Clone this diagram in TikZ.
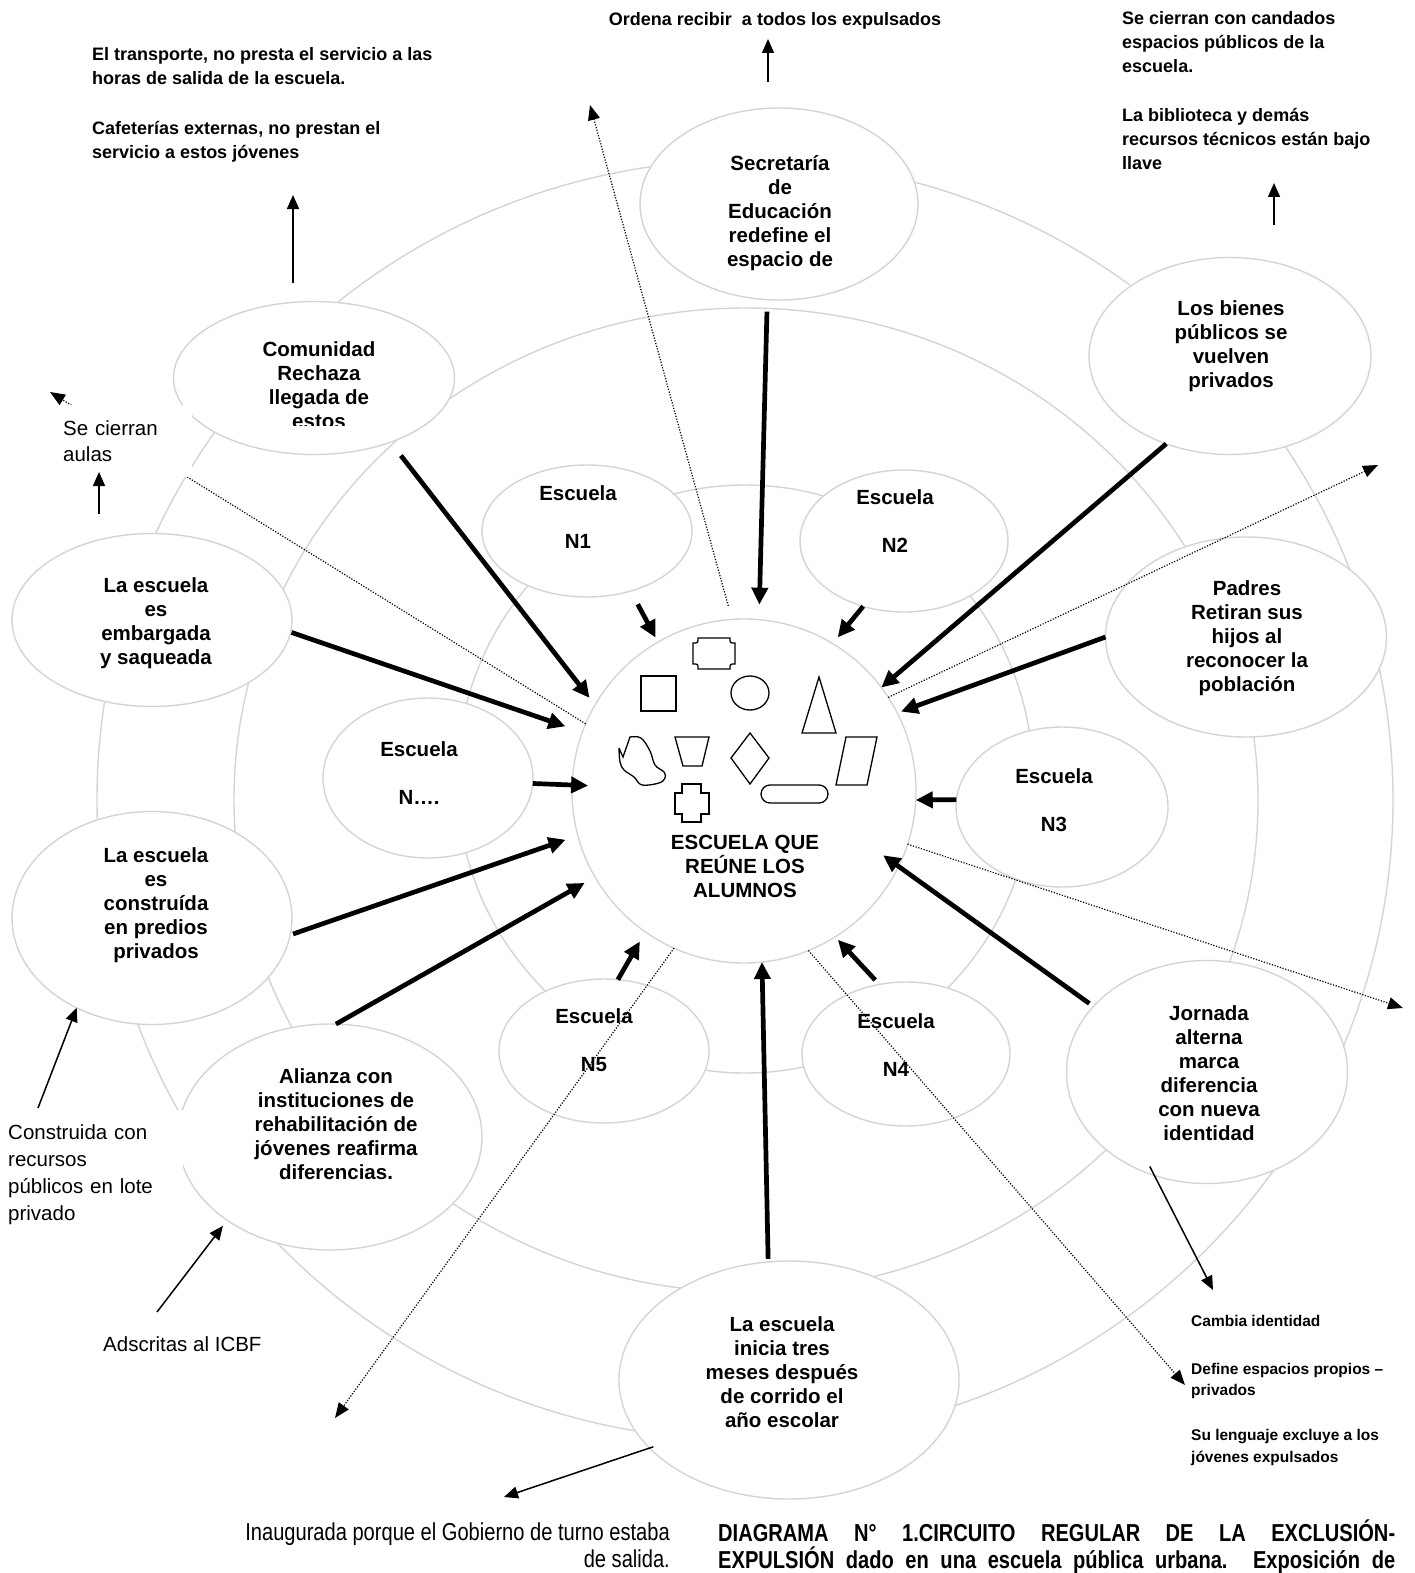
\documentclass[tikz,border=0pt]{standalone}
\usepackage{fontspec}
\setmainfont{Liberation Sans}
\newfontfamily\estrecha[FakeStretch=0.82]{Liberation Sans}
\usepackage{xcolor}
\usepackage{tikz}
\usetikzlibrary{shapes.geometric, arrows.meta, calc}
\definecolor{gris}{RGB}{212,212,212}

\begin{document}
\begin{tikzpicture}[x=1pt, y=-1pt,
		anillo/.style={draw=gris, line width=1.4pt},
		ovalo/.style={ellipse, draw=gris, fill=white, line width=1.4pt, inner sep=0pt, outer sep=0pt},
		ovtexto/.style={align=center, font=\fontsize{20.5}{24}\selectfont\bfseries},
		negtexto/.style={align=left, inner sep=0pt, font=\fontsize{18}{24}\selectfont\bfseries},
		regtexto/.style={align=left, font=\fontsize{20.5}{26}\selectfont},
		gruesa/.style={line width=4.7pt, -{Triangle[length=17pt, width=16pt]}},
		fina/.style={line width=1.5pt, -{Triangle[length=14pt, width=12pt]}},
		punteada/.style={line width=1.2pt, dash pattern=on 1.2pt off 1.6pt, -{Triangle[length=15pt, width=12pt]}}]
	
	\useasboundingbox (0,0) rectangle (1414,1573);
	\fill [white] (0,0) rectangle (1414,1573);
	
	\begin{scope}
		\draw [anillo] (745,800) ellipse [x radius=648pt, y radius=640pt];
		\draw [anillo] (746,800) ellipse [x radius=512pt, y radius=492pt];
		\draw [anillo] (745,779) ellipse [x radius=288pt, y radius=294pt];
	\end{scope}
	
	\node [ovalo, circle, minimum size=344pt] (cent) at (744,791) {};
	
	\node [ovalo, minimum width=278pt, minimum height=192pt] (secr) at (779,204) {};
	\node [ovalo, minimum width=281pt, minimum height=153pt] (comu) at (314,378) {};
	\node [ovalo, minimum width=282pt, minimum height=197pt] (bien) at (1230,356) {};
	\node [ovalo, minimum width=280pt, minimum height=173pt] (emba) at (152,620) {};
	\node [ovalo, minimum width=281pt, minimum height=200pt] (padr) at (1246,637) {};
	\node [ovalo, minimum width=280pt, minimum height=213pt] (cons) at (152,918) {};
	\node [ovalo, minimum width=304pt, minimum height=226pt] (alia) at (330,1137) {};
	\node [ovalo, minimum width=281pt, minimum height=223pt] (jorn) at (1207,1072) {};
	\node [ovalo, minimum width=340pt, minimum height=238pt] (inic) at (789,1380) {};
	
	\node [ovalo, minimum width=210pt, minimum height=132pt] (n1) at (587,531) {};
	\node [ovalo, minimum width=208pt, minimum height=142pt] (n2) at (904,541) {};
	\node [ovalo, minimum width=210pt, minimum height=160pt] (ndots) at (428,778) {};
	\node [ovalo, minimum width=212pt, minimum height=160pt] (n3) at (1062,807) {};
	\node [ovalo, minimum width=210pt, minimum height=144pt] (n5) at (604,1051) {};
	\node [ovalo, minimum width=208pt, minimum height=144pt] (n4) at (906,1054) {};
	
	\node [ovtexto] (secr-t) at (780,213) {Secretaría\\de\\Educación\\redefine el\\espacio de};
	\begin{scope}
		\clip (150,300) rectangle (480,425);
		\node [ovtexto] (comu-t) at (319,385) {Comunidad\\Rechaza\\llegada de\\estos};
	\end{scope}
	\node [ovtexto] (bien-t) at (1231,346) {Los bienes\\públicos se\\vuelven\\privados};
	\node [ovtexto] (emba-t) at (156,623) {La escuela\\es\\embargada\\y saqueada};
	\node [ovtexto] (padr-t) at (1247,638) {Padres\\Retiran sus\\hijos al\\reconocer la\\población};
	\node [ovtexto] (cons-t) at (156,905) {La escuela\\es\\construída\\en predios\\privados};
	\node [ovtexto] (alia-t) at (336,1124) {Alianza con\\instituciones de\\rehabilitación de\\jóvenes reafirma\\diferencias.};
	\node [ovtexto] (jorn-t) at (1209,1073) {Jornada\\alterna\\marca\\diferencia\\con nueva\\identidad};
	\node [ovtexto] (inic-t) at (782,1372) {La escuela\\inicia tres\\meses después\\de corrido el\\año escolar};
	
	\node [ovtexto] (n1-t) at (578,517) {Escuela\\[24pt]N1};
	\node [ovtexto] (n2-t) at (895,521) {Escuela\\[24pt]N2};
	\node [ovtexto] (ndots-t) at (419,773) {Escuela\\[24pt]N….};
	\node [ovtexto] (n3-t) at (1054,800) {Escuela\\[24pt]N3};
	\node [ovtexto] (n5-t) at (594,1040) {Escuela\\[24pt]N5};
	\node [ovtexto] (n4-t) at (896,1045) {Escuela\\[24pt]N4};
	
	\node [ovtexto] (cent-t) at (745,866) {ESCUELA QUE\\REÚNE LOS\\ALUMNOS};
	
	\begin{scope}[line width=1.3pt]
		\draw (698,638) -- (730,638) .. controls (730,643) .. (735,643) -- (735,664) .. controls (730,664) .. (730,669) -- (698,669) .. controls (698,664) .. (693,664) -- (693,643) .. controls (698,643) .. (698,638) -- cycle;
		\draw (641,676) rectangle (676,711);
		\draw (750,693) ellipse [x radius=19pt, y radius=17pt];
		\draw (819,677) -- (836,733) -- (802,733) -- cycle;
		\draw (619,748) -- (623,757) -- plot [smooth, tension=0.6] coordinates {(630,737) (641,738) (650,751) (655,765) (664,772) (665,778) (659,783) (642,785) (634,777) (624,770) (620,762) (619,748)};
		\draw (675,737) -- (709,737) -- (702,766) -- (683,766) -- cycle;
		\draw (750,733) -- (769,758) -- (750,784) -- (731,758) -- cycle;
		\draw (846,737) -- (877,737) -- (867,785) -- (836,785) -- cycle;
		\draw (682,784) -- (701,784) -- (701,793) -- (709,793) -- (709,814) -- (701,814) -- (701,822) -- (682,822) -- (682,814) -- (675,814) -- (675,793) -- (682,793) -- cycle;
		\draw [rounded corners=9pt] (761,785) rectangle (828,803);
	\end{scope}
	
	\draw [gruesa, shorten <=12pt, shorten >=15pt] (secr.-97) -- (cent.85);
	\draw [gruesa, shorten <=17pt, shorten >=9pt] (comu.-40) -- (cent.150);
	\draw [gruesa, shorten <=1pt, shorten >=18pt] (emba.-5) -- (cent.160);
	\draw [gruesa, shorten >=-16pt] (ndots.-3) -- (cent.178);
	\draw [gruesa, shorten <=3pt, shorten >=13pt] (cons.-7) -- (cent.195);
	\draw [gruesa, shorten >=12pt] (alia.87) -- (cent.210);
	\draw [gruesa, shorten >=11pt] (n5.79) -- (cent.235);
	\draw [gruesa, shorten <=3pt] (inic.100) -- (cent.-84);
	\draw [gruesa, shorten <=6pt, shorten >=4pt] (n4.111) -- (cent.-58);
	\draw [gruesa, shorten <=5pt, shorten >=-19pt] (jorn.150) -- (cent.-26);
	\draw [gruesa] (n3.176) -- (cent.-3);
	\draw [gruesa, shorten >=4pt] (padr.180) -- (cent.27);
	\draw [gruesa] (bien.234) -- (cent.37);
	\draw [gruesa, shorten >=8pt] (n2.238) -- (cent.59);
	\draw [gruesa, shorten <=15pt, shorten >=5pt] (n1.-54) -- (cent.120);
	
	\coordinate (p-sup) at (590,105);
	\coordinate (p-aula) at (50,392);
	\coordinate (p-der1) at (1378,465);
	\coordinate (p-der2) at (1403,1008);
	\coordinate (p-infd) at (1185,1385);
	\coordinate (p-infi) at (335,1418);
	
	\draw [punteada, shorten <=14pt] (cent.94) -- (p-sup);
	\draw [punteada] (cent.157) -- (p-aula);
	\draw [punteada] (cent.33) -- (p-der1);
	\draw [punteada] (cent.-18) -- (p-der2);
	\draw [punteada] (cent.-68) -- (p-infd);
	\draw [punteada] (cent.246) -- (p-infi);
	
	\node [regtexto, fill=white, anchor=north west, inner xsep=8pt, inner ysep=0pt, text width=121pt, minimum height=72pt] (aula) at (55,405) {Se cierran\\aulas};
	\node [regtexto, fill=white, anchor=north west, inner xsep=8pt, inner ysep=0pt, text width=167pt, minimum height=128pt, font=\fontsize{20.5}{27}\selectfont] (cnst) at (0,1110) {Construida con\\recursos\\públicos en lote\\privado};
	
	\coordinate (orde-a) at (768,82);
	\coordinate (orde-b) at (768,39);
	\coordinate (tran-a) at (293,283);
	\coordinate (tran-b) at (293,195);
	\coordinate (cand-a) at (1274,225);
	\coordinate (cand-b) at (1274,183);
	\coordinate (aula-a) at (99,514);
	\coordinate (aula-b) at (99,472);
	\coordinate (cnst-a) at (38,1108);
	\coordinate (adsc-a) at (157,1312);
	\coordinate (camb-a) at (1213,1290);
	\coordinate (inau-a) at (504,1497);
	
	\draw [fina] (orde-a) -- (orde-b);
	\draw [fina] (tran-a) -- (tran-b);
	\draw [fina] (cand-a) -- (cand-b);
	\draw [fina] (aula-a) -- (aula-b);
	\draw [fina] (cnst-a) -- (cons.230);
	\draw [fina, shorten >=7pt] (adsc-a) -- (alia.219);
	\draw [fina, shorten <=-10pt] (jorn.-117) -- (camb-a);
	\draw [fina, shorten <=-4pt] (inic.206) -- (inau-a);
	
	\node [negtexto, anchor=base] (orde) at (775,26) {Ordena recibir~ a todos los expulsados};
	\node [negtexto, anchor=base west] (tran) at (92,159) {El transporte, no presta el servicio a las\\horas de salida de la escuela.\\[26pt]Cafeterías externas, no prestan el\\servicio a estos jóvenes};
	\node [negtexto, anchor=base west] (cand) at (1122,170) {Se cierran con candados\\espacios públicos de la\\escuela.\\[25pt]La biblioteca y demás\\recursos técnicos están bajo\\llave};
	\node [negtexto, anchor=base west, font=\fontsize{15.5}{21.5}\selectfont\bfseries] (camb) at (1191,1462) {Cambia identidad\\[26.5pt]Define espacios propios –\\privados\\[23.5pt]Su lenguaje excluye a los\\jóvenes expulsados};
	\node [regtexto, anchor=base west, inner sep=0pt] (adsc) at (103,1351) {Adscritas al ICBF};
	\node [anchor=base east, align=right, inner sep=0pt, font=\estrecha\fontsize{24.5}{27}\selectfont] (inau) at (670,1567) {Inaugurada porque el Gobierno de turno estaba\\de salida.};
	\node [anchor=base west, align=left, inner sep=0pt, font=\estrecha\fontsize{24.5}{27}\selectfont\bfseries] (diag) at (718,1568) {\makebox[677pt][s]{DIAGRAMA N° 1.CIRCUITO REGULAR DE LA EXCLUSIÓN-}\\\makebox[677pt][s]{EXPULSIÓN dado en una escuela pública urbana. Exposición de}};
\end{tikzpicture}
\end{document}
